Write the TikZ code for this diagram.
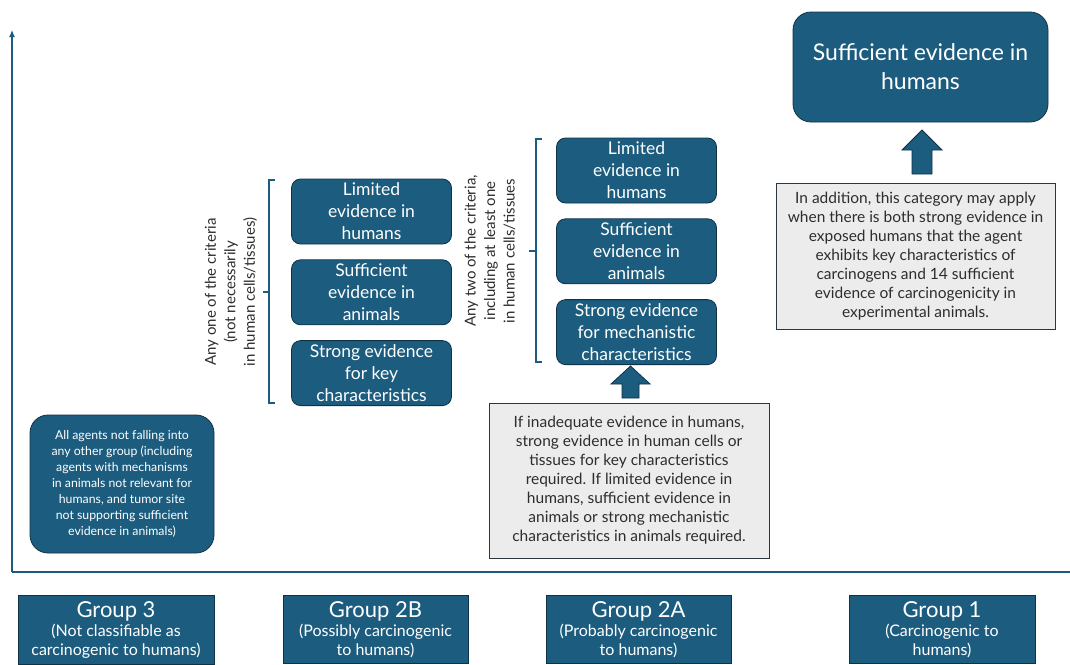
\documentclass[tikz,border=0pt]{standalone}
\usepackage{fontspec}
\setmainfont{Lato}
\usetikzlibrary{positioning, arrows.meta}
\definecolor{iarcblue}{RGB}{28,92,126}
\definecolor{iarcedge}{RGB}{16,50,70}
\definecolor{notegray}{RGB}{236,236,236}
\definecolor{noteedge}{RGB}{40,55,66}
\definecolor{notetext}{RGB}{45,45,45}

\begin{document}
\begin{tikzpicture}[x=1pt,y=-1pt,node distance=15pt]
    \tikzstyle{criterion}=[shape=rectangle,rounded corners=9pt,draw=iarcedge,fill=iarcblue,thick,text=white,minimum width=160pt,minimum height=65pt,inner sep=2pt,align=center,font=\fontsize{17.5}{22}\selectfont]
    \tikzstyle{bigbox}=[criterion,rounded corners=18pt,minimum width=255pt,minimum height=110pt,font=\fontsize{23}{29}\selectfont]
    \tikzstyle{otherbox}=[criterion,rounded corners=18pt,minimum width=184pt,minimum height=138pt,font=\fontsize{12.3}{16}\selectfont]
    \tikzstyle{note}=[shape=rectangle,draw=noteedge,fill=notegray,thick,text=notetext,align=center,font=\fontsize{15.5}{19}\selectfont]
    \tikzstyle{group}=[shape=rectangle,draw=iarcedge,fill=iarcblue,thick,text=white,anchor=north,inner xsep=2pt,inner ysep=6pt,align=center,font=\fontsize{16}{19}\selectfont]
    \tikzstyle{criterialabel}=[rotate=90,align=center,text=notetext,font=\fontsize{15}{19.5}\selectfont]
    \tikzstyle{blockarrow}=[draw=iarcedge,fill=iarcblue,thick,line join=miter]
    \tikzstyle{axis}=[draw=iarcblue,line width=1.2pt]
    \tikzstyle{bracket}=[draw=iarcblue,line width=1.4pt]
    \newcommand{\grouptitle}[1]{{\fontsize{22}{26}\selectfont #1}}

    \clip (0,0) rectangle (1070,664);

    % axes
    \coordinate (O) at (12,572);
    \coordinate (Ytop) at (12,30);
    \coordinate (Xend) at (1070,572);
    \draw[axis,-{Latex[length=7pt,width=6pt]}] (O) -- (Ytop);
    \draw[axis] (O) -- (Xend);

    % Group 3 criteria
    \node[otherbox] (C3) at (122,484) {All agents not falling into\\any other group (including\\agents with mechanisms\\in animals not relevant for\\humans, and tumor site\\not supporting sufficient\\evidence in animals)};

    % Group 2B criteria
    \node[criterion] (B1) at (371.5,211.5) {Limited\\evidence in\\humans};
    \node[criterion, below=of B1] (B2) {Sufficient\\evidence in\\animals};
    \node[criterion, below=of B2] (B3) {Strong evidence\\for key\\characteristics};
    \draw[bracket] (275,180) -- (269,180) -- (269,403) -- (275,403);
    \draw[bracket] (269,292) -- (263,292);
    \node[criterialabel] (LB) at (231,292) {Any one of the criteria\\(not necessarily\\in human cells/tissues)};

    % Group 2A criteria
    \node[criterion] (A1) at (636.5,170.5) {Limited\\evidence in\\humans};
    \node[criterion, below=of A1] (A2) {Sufficient\\evidence in\\animals};
    \node[criterion, below=of A2] (A3) {Strong evidence\\for mechanistic\\characteristics};
    \draw[bracket] (542,139) -- (536,139) -- (536,362) -- (542,362);
    \draw[bracket] (536,251) -- (529,251);
    \node[criterialabel] (LA) at (490,251) {Any two of the criteria,\\including at least one\\in human cells/tissues};
    \node[note, minimum width=280pt, minimum height=155pt] (NA) at (629,480.5) {If inadequate evidence in humans,\\strong evidence in human cells or\\tissues for key characteristics\\required. If limited evidence in\\humans, sufficient evidence in\\animals or strong mechanistic\\characteristics in animals required.};
    \draw[blockarrow] (622,398) -- (622,384) -- (611,384) -- (630.5,366) -- (650,384) -- (639,384) -- (639,398) -- cycle;

    % Group 1 criteria
    \node[bigbox] (H1) at (920.5,67) {Sufficient evidence in\\humans};
    \node[note, minimum width=279pt, minimum height=146pt] (NH) at (915.5,256) {In addition, this category may apply\\when there is both strong evidence in\\exposed humans that the agent\\exhibits key characteristics of\\carcinogens and 14 sufficient\\evidence of carcinogenicity in\\experimental animals.};
    \draw[blockarrow] (912,174) -- (912,150) -- (902,150) -- (922,130) -- (942,150) -- (932,150) -- (932,174) -- cycle;

    % groups
    \node[group, minimum width=196pt] (G3) at (116,595) {\grouptitle{Group 3}\\(Not classifiable as\\carcinogenic to humans)};
    \node[group, minimum width=185pt] (G2B) at (375.5,595) {\grouptitle{Group 2B}\\(Possibly carcinogenic\\to humans)};
    \node[group, minimum width=185pt] (G2A) at (638.5,595) {\grouptitle{Group 2A}\\(Probably carcinogenic\\to humans)};
    \node[group, minimum width=186pt] (G1) at (942,595) {\grouptitle{Group 1}\\(Carcinogenic to\\humans)};
\end{tikzpicture}
\end{document}
